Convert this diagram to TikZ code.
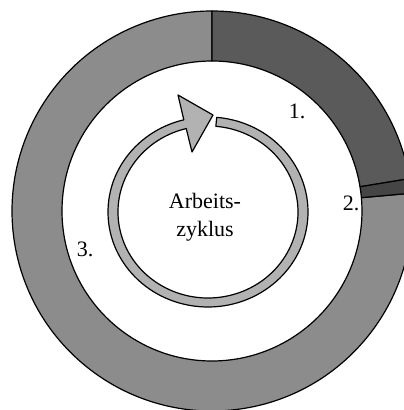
\documentclass[tikz,border=0pt]{standalone}
\usepackage{fontspec}
\setmainfont{Liberation Serif}
\usepackage{xcolor}
\usepackage{tikz}
\usetikzlibrary{positioning,calc}

\definecolor{phaseone}{HTML}{5A5A5A}
\definecolor{phasetwo}{HTML}{454545}
\definecolor{phasethree}{HTML}{8C8C8C}
\definecolor{cyclefill}{HTML}{B2B2B2}

\begin{document}
\begin{tikzpicture}[
x=1pt, y=1pt,
font=\fontsize{22}{28}\selectfont,
seg/.style={draw=black, line width=1.2pt, line join=round},
one/.style={seg, fill=phaseone},
two/.style={seg, fill=phasetwo},
three/.style={seg, fill=phasethree},
cyc/.style={seg, fill=cyclefill},
num/.style={anchor=base, inner sep=0pt}
]

\useasboundingbox (0,0) rectangle (404,410);
\clip (0,0) rectangle (404,410);
\fill[white] (0,0) rectangle (404,410);

% Centres of ring and cycle arrow
\coordinate (rc) at (212,199);
\coordinate (ac) at (208,198);

% Phase ring
\draw[three] ([shift={(5.1:200)}]rc) arc (5.1:-270:200) -- ([shift={(90:150)}]rc) arc (-270:5.1:150) -- cycle;
\draw[one] ([shift={(90:200)}]rc) arc (90:9.3:200) -- ([shift={(9.3:150)}]rc) arc (9.3:90:150) -- cycle;
\draw[two] ([shift={(9.3:200)}]rc) arc (9.3:5.1:200) -- ([shift={(5.1:150)}]rc) arc (5.1:9.3:150) -- cycle;

% Cycle arrow
\draw[cyc] ([shift={(85:100 and 95)}]ac) arc (85:-256:100 and 95)
  -- ([shift={(-30,117)}]ac) -- ([shift={(5,97)}]ac) -- ([shift={(-16,60)}]ac)
  -- ([shift={(-256:90 and 86)}]ac) arc (-256:85:90 and 86) -- cycle;

% Labels
\node[align=center, inner sep=0pt] (zyk) at (205,193) {Arbeits-\\zyklus};
\node[num] (p1) at (297,291) {1.};
\node[num] (p2) at (351,199) {2.};
\node[num] (p3) at (85,153) {3.};

\end{tikzpicture}
\end{document}
